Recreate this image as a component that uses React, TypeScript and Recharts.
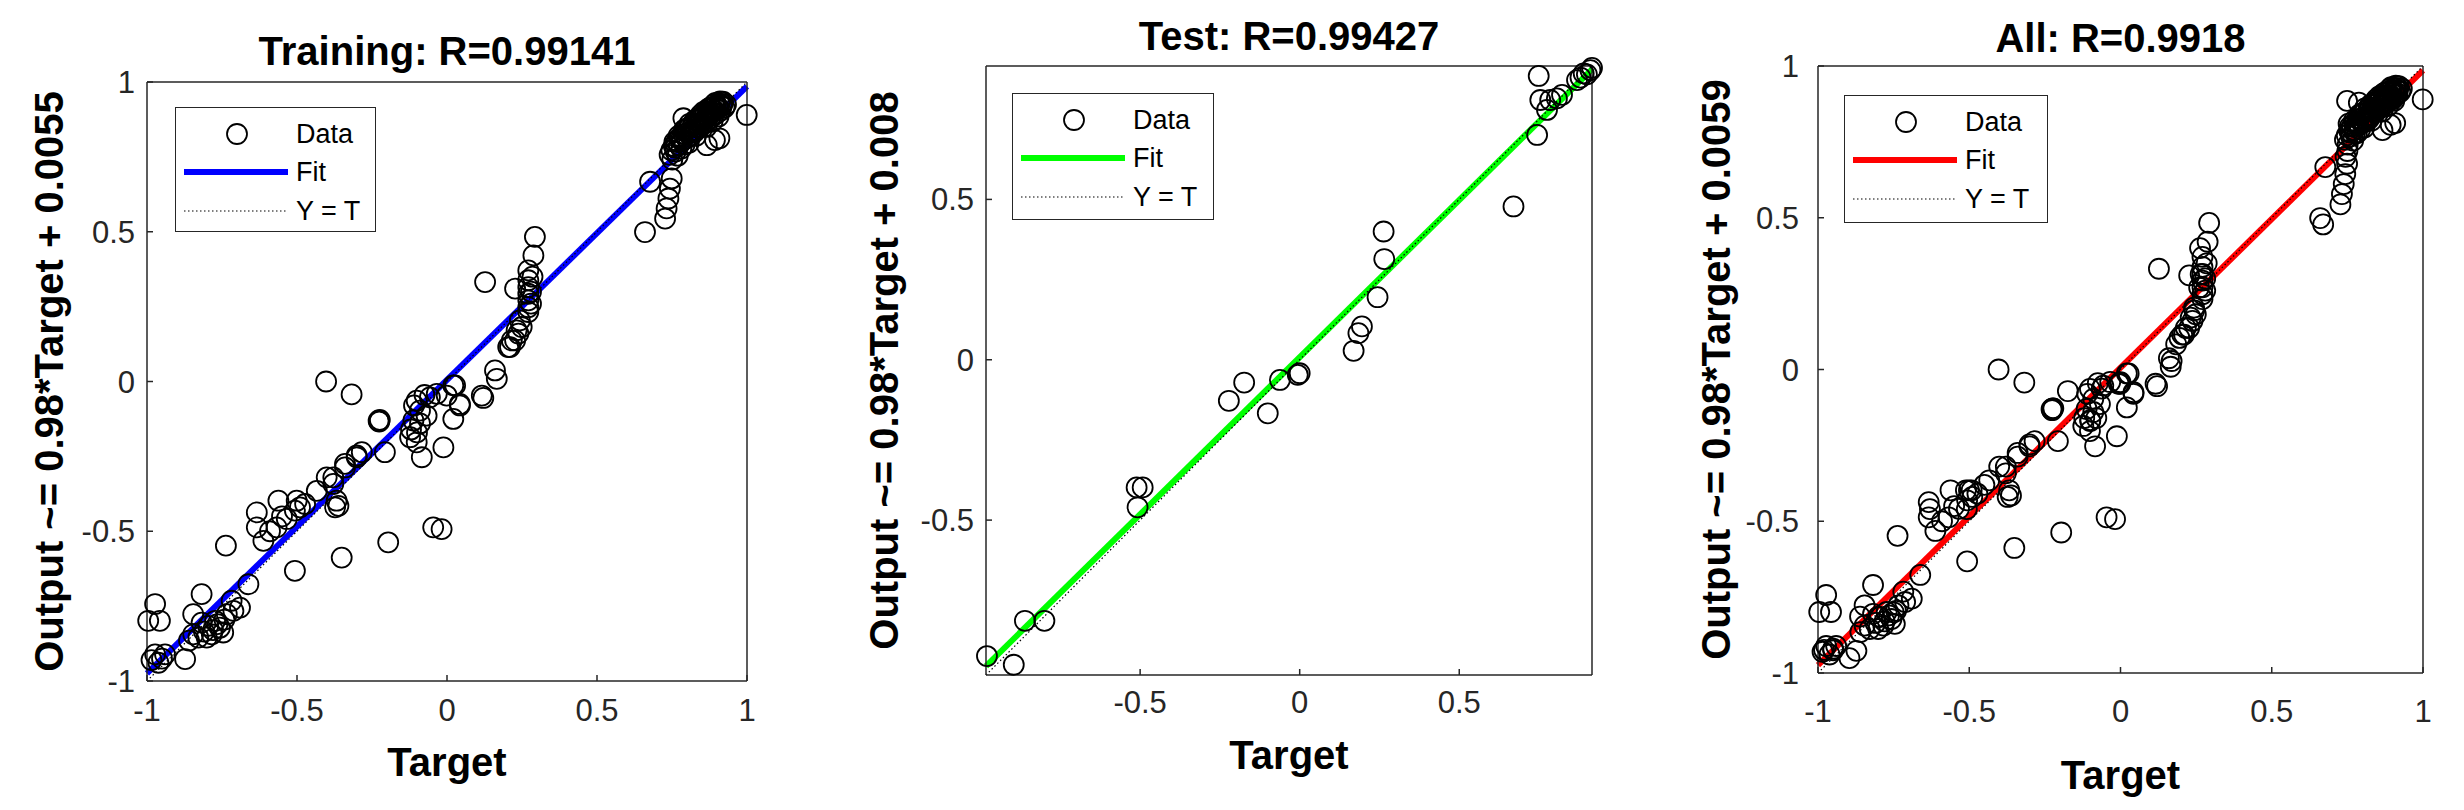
import { ReferenceLine, Scatter, ScatterChart, XAxis, YAxis } from "recharts";

const FONT = "'Liberation Sans', Arial, Helvetica, sans-serif";
const AXIS_COLOR = "#262626";
const HEIGHT = 810;

// [target, output] pairs
const trainingPoints: [number, number][] = [
  [-0.973, -0.743], [-0.996, -0.799], [-0.957, -0.799], [-0.973, -0.911], [-0.962, -0.939],
  [-0.94, -0.911], [-0.985, -0.93], [-0.95, -0.925], [-0.873, -0.927], [-0.846, -0.844],
  [-0.818, -0.71], [-0.846, -0.777], [-0.818, -0.805], [-0.796, -0.816], [-0.773, -0.799],
  [-0.757, -0.822], [-0.734, -0.777], [-0.712, -0.766], [-0.784, -0.844], [-0.746, -0.838],
  [-0.829, -0.855], [-0.801, -0.855], [-0.765, -0.81], [-0.78, -0.83], [-0.742, -0.795],
  [-0.81, -0.835], [-0.86, -0.865], [-0.69, -0.755], [-0.718, -0.732], [-0.662, -0.677],
  [-0.737, -0.548],
  [-0.634, -0.437], [-0.634, -0.487], [-0.612, -0.532], [-0.562, -0.398], [-0.568, -0.487],
  [-0.534, -0.459], [-0.501, -0.398], [-0.473, -0.409], [-0.507, -0.431], [-0.49, -0.42],
  [-0.434, -0.365], [-0.401, -0.32], [-0.379, -0.342], [-0.373, -0.42], [-0.368, -0.398],
  [-0.34, -0.275], [-0.301, -0.247], [-0.284, -0.236], [-0.207, -0.236], [-0.507, -0.632],
  [-0.351, -0.588], [-0.196, -0.537], [-0.046, -0.487], [-0.018, -0.493], [-0.012, -0.22],
  [-0.084, -0.253], [-0.379, -0.32], [-0.362, -0.415], [-0.301, -0.253], [-0.34, -0.287],
  [-0.59, -0.5], [-0.55, -0.45],
  [-0.403, 0.0], [-0.318, -0.043], [-0.228, -0.131], [-0.224, -0.128], [-0.226, -0.134],
  [-0.101, -0.064], [-0.09, -0.097], [-0.112, -0.13], [-0.123, -0.186], [-0.101, -0.203],
  [-0.068, -0.114], [-0.057, -0.053], [-0.034, -0.041], [-0.001, -0.047], [0.021, -0.013],
  [0.043, -0.075], [0.021, -0.125], [0.116, -0.047], [0.121, -0.055], [-0.11, -0.08],
  [-0.09, -0.14], [-0.12, -0.16], [-0.1, -0.17], [-0.075, -0.045], [0.027, -0.013],
  [0.043, -0.08],
  [0.16, 0.037], [0.166, 0.009], [0.21, 0.115], [0.227, 0.137], [0.238, 0.16], [0.249, 0.182],
  [0.293, 0.483], [0.288, 0.421], [0.271, 0.371], [0.271, 0.338], [0.271, 0.315],
  [0.271, 0.293], [0.271, 0.271], [0.271, 0.248], [0.271, 0.232], [0.285, 0.35],
  [0.28, 0.3], [0.28, 0.26], [0.127, 0.332], [0.227, 0.31], [0.243, 0.204], [0.232, 0.171],
  [0.216, 0.137], [0.204, 0.115],
  [0.999, 0.89], [0.893, 0.806], [0.66, 0.499], [0.677, 0.667], [0.727, 0.544], [0.732, 0.578],
  [0.738, 0.611], [0.743, 0.644], [0.749, 0.678], [0.788, 0.879], [0.866, 0.789], [0.908, 0.812],
  [0.742, 0.757], [0.748, 0.772], [0.751, 0.741], [0.756, 0.786], [0.762, 0.768], [0.765, 0.801],
  [0.769, 0.754], [0.773, 0.79], [0.776, 0.815], [0.781, 0.778], [0.784, 0.803], [0.788, 0.826],
  [0.792, 0.791], [0.795, 0.842], [0.799, 0.812], [0.803, 0.83], [0.806, 0.797], [0.81, 0.851],
  [0.814, 0.821], [0.818, 0.839], [0.822, 0.862], [0.826, 0.834], [0.83, 0.851], [0.835, 0.874],
  [0.839, 0.846], [0.843, 0.862], [0.847, 0.883], [0.851, 0.857], [0.856, 0.871], [0.86, 0.892],
  [0.864, 0.866], [0.868, 0.884], [0.872, 0.902], [0.876, 0.878], [0.88, 0.895], [0.884, 0.912],
  [0.888, 0.887], [0.892, 0.904], [0.896, 0.921], [0.9, 0.896], [0.904, 0.913], [0.908, 0.928],
  [0.912, 0.905], [0.916, 0.92], [0.92, 0.934], [0.895, 0.93], [0.878, 0.915], [0.862, 0.9],
  [0.845, 0.89], [0.826, 0.872], [0.808, 0.86], [0.79, 0.84], [0.772, 0.82], [0.758, 0.8],
  [0.925, 0.915], [0.93, 0.925], [0.905, 0.885], [0.885, 0.868], [0.865, 0.85], [0.83, 0.82],
  [0.87, 0.91], [0.89, 0.925], [0.91, 0.935], [0.855, 0.9], [0.875, 0.893], [0.897, 0.91],
  [0.918, 0.927], [0.84, 0.88], [0.86, 0.875], [0.882, 0.9], [0.902, 0.918], [0.82, 0.86],
  [0.8, 0.845], [0.78, 0.81], [0.76, 0.78], [0.815, 0.83], [0.835, 0.86], [0.853, 0.885]
];

const testPoints: [number, number][] = [
  [-0.98, -0.924], [-0.896, -0.951], [-0.861, -0.814], [-0.8, -0.814], [-0.511, -0.398],
  [-0.492, -0.398], [-0.508, -0.46], [-0.222, -0.128], [-0.174, -0.071], [-0.1, -0.167],
  [-0.062, -0.063], [-0.006, -0.047], [0.0, -0.042], [0.169, 0.028], [0.184, 0.083],
  [0.195, 0.104], [0.244, 0.195], [0.265, 0.314], [0.263, 0.4], [0.67, 0.478],
  [0.744, 0.701], [0.749, 0.885], [0.754, 0.81], [0.775, 0.779], [0.785, 0.81],
  [0.806, 0.815], [0.822, 0.826], [0.869, 0.872], [0.89, 0.893], [0.911, 0.903],
  [0.9, 0.89], [0.916, 0.91], [0.88, 0.88]
];

const validationPoints: [number, number][] = [
  [-0.95, -0.92], [-0.75, -0.8], [-0.63, -0.46], [-0.45, -0.38],
  [-0.08, -0.16], [0.26, 0.27], [0.75, 0.72], [0.8, 0.82]
];

const allPoints = [...trainingPoints, ...testPoints, ...validationPoints];

const fullTicks = [-1, -0.5, 0, 0.5, 1];
const testTicks = [-0.5, 0, 0.5];

const panels = [
  {
    title: "Training: R=0.99141",
    yLabel: "Output ~= 0.98*Target + 0.0055",
    slope: 0.98,
    intercept: 0.0055,
    color: "#0000ff",
    domain: [-1, 1] as [number, number],
    ticks: fullTicks,
    points: trainingPoints,
    chartLeft: 0,
    chartWidth: 820,
    plot: { left: 147, right: 747, top: 82, bottom: 681 },
    titleY: 51,
    yLabelX: 49,
    xLabelY: 762,
    xTickGap: 29,
    yTickGap: 12,
    legend: { left: 175, top: 107, width: 201, height: 125 }
  },
  {
    title: "Test: R=0.99427",
    yLabel: "Output ~= 0.98*Target + 0.008",
    slope: 0.98,
    intercept: 0.008,
    color: "#00ff00",
    domain: [-0.983, 0.916] as [number, number],
    ticks: testTicks,
    points: testPoints,
    chartLeft: 820,
    chartWidth: 820,
    plot: { left: 986, right: 1592, top: 66, bottom: 675 },
    titleY: 36,
    yLabelX: 884,
    xLabelY: 755,
    xTickGap: 27,
    yTickGap: 12,
    legend: { left: 1012, top: 93, width: 202, height: 127 }
  },
  {
    title: "All: R=0.9918",
    yLabel: "Output ~= 0.98*Target + 0.0059",
    slope: 0.98,
    intercept: 0.0059,
    color: "#ff0000",
    domain: [-1, 1] as [number, number],
    ticks: fullTicks,
    points: allPoints,
    chartLeft: 1640,
    chartWidth: 824,
    plot: { left: 1818, right: 2423, top: 66, bottom: 673 },
    titleY: 38,
    yLabelX: 1716,
    xLabelY: 775,
    xTickGap: 38,
    yTickGap: 19,
    legend: { left: 1844, top: 95, width: 204, height: 128 }
  }
];

type Panel = (typeof panels)[number];

const boldText = { fontFamily: FONT, fontSize: 40, fontWeight: 700, fill: "#000" };
const tickText = { fontFamily: FONT, fontSize: 31, fill: AXIS_COLOR };
const axisStroke = { stroke: AXIS_COLOR, strokeWidth: 1.5 };

const circleShape = (props: any) => (
  <circle cx={props.cx} cy={props.cy} r={10} fill="none" stroke="#000" strokeWidth={1.8} />
);

function LegendBox({ panel }: { panel: Panel }) {
  const { left, top, width, height } = panel.legend;
  const rows = [26, 64, 103];
  const label = (text: string, y: number) => (
    <span style={{ position: "absolute", left: 120, top: y - 16, lineHeight: "32px" }}>{text}</span>
  );
  return (
    <div
      style={{
        position: "absolute", left, top, width, height, boxSizing: "border-box",
        border: `1.5px solid ${AXIS_COLOR}`, background: "#fff",
        fontFamily: FONT, fontSize: 27, color: "#000"
      }}
    >
      <svg width={118} height={height} style={{ position: "absolute", left: 0, top: 0 }}>
        <circle cx={61} cy={rows[0]} r={10} fill="none" stroke="#000" strokeWidth={1.8} />
        <line x1={8} x2={112} y1={rows[1]} y2={rows[1]} stroke={panel.color} strokeWidth={6} />
        <line x1={8} x2={112} y1={rows[2]} y2={rows[2]} stroke="#000" strokeWidth={1.2} strokeDasharray="1.5 2.5" />
      </svg>
      {label("Data", rows[0])}
      {label("Fit", rows[1])}
      {label("Y = T", rows[2])}
    </div>
  );
}

function RegressionPanel({ panel }: { panel: Panel }) {
  const { plot, chartLeft, chartWidth, domain } = panel;
  const l = plot.left - chartLeft;
  const r = plot.right - chartLeft;
  const margin = { top: plot.top - 1, left: l - 1, right: chartWidth - r - 1, bottom: HEIGHT - plot.bottom - 1 };
  const midX = (l + r) / 2;
  const midY = (plot.top + plot.bottom) / 2;
  const yLabelX = panel.yLabelX - chartLeft;
  const data = panel.points.map(([x, y]) => ({ x, y }));
  const [lo, hi] = domain;

  return (
    <div style={{ position: "absolute", left: chartLeft, top: 0 }}>
      <ScatterChart width={chartWidth} height={HEIGHT} margin={margin}>
        <XAxis
          type="number" dataKey="x" scale="linear" domain={domain} ticks={panel.ticks} interval={0}
          height={1} tickSize={-6} tickMargin={panel.xTickGap - 11 + 6}
          axisLine={axisStroke} tickLine={axisStroke} tick={tickText}
          label={() => (
            <text x={midX} y={panel.xLabelY} textAnchor="middle" dominantBaseline="central" style={boldText}>
              Target
            </text>
          )}
        />
        <XAxis
          xAxisId="top" orientation="top" type="number" scale="linear" domain={domain} ticks={panel.ticks}
          interval={0} height={1} tickSize={-6} tick={false} axisLine={axisStroke} tickLine={axisStroke}
          label={() => (
            <text x={midX} y={panel.titleY} textAnchor="middle" dominantBaseline="central" style={boldText}>
              {panel.title}
            </text>
          )}
        />
        <YAxis
          type="number" dataKey="y" scale="linear" domain={domain} ticks={panel.ticks} interval={0}
          width={1} tickSize={-6} tickMargin={panel.yTickGap + 6}
          axisLine={axisStroke} tickLine={axisStroke} tick={tickText}
          label={() => (
            <text
              x={yLabelX} y={midY} textAnchor="middle" dominantBaseline="central" style={boldText}
              transform={`rotate(-90 ${yLabelX} ${midY})`}
            >
              {panel.yLabel}
            </text>
          )}
        />
        <YAxis
          yAxisId="right" orientation="right" type="number" scale="linear" domain={domain} ticks={panel.ticks}
          interval={0} width={1} tickSize={-6} tick={false} axisLine={axisStroke} tickLine={axisStroke}
        />
        <Scatter data={data} shape={circleShape} isAnimationActive={false} />
        <ReferenceLine
          segment={[
            { x: lo, y: panel.slope * lo + panel.intercept },
            { x: hi, y: panel.slope * hi + panel.intercept }
          ]}
          stroke={panel.color} strokeWidth={6} ifOverflow="visible"
        />
        <ReferenceLine
          segment={[{ x: lo, y: lo }, { x: hi, y: hi }]}
          stroke="#000" strokeWidth={1.2} strokeDasharray="1.5 2.5" ifOverflow="visible"
        />
      </ScatterChart>
    </div>
  );
}

export default function App() {
  return (
    <div style={{ position: "absolute", left: 0, top: 0, width: 2464, height: HEIGHT, background: "#fff" }}>
      {panels.map((p) => (
        <RegressionPanel key={p.title} panel={p} />
      ))}
      {panels.map((p) => (
        <LegendBox key={`legend-${p.title}`} panel={p} />
      ))}
    </div>
  );
}
